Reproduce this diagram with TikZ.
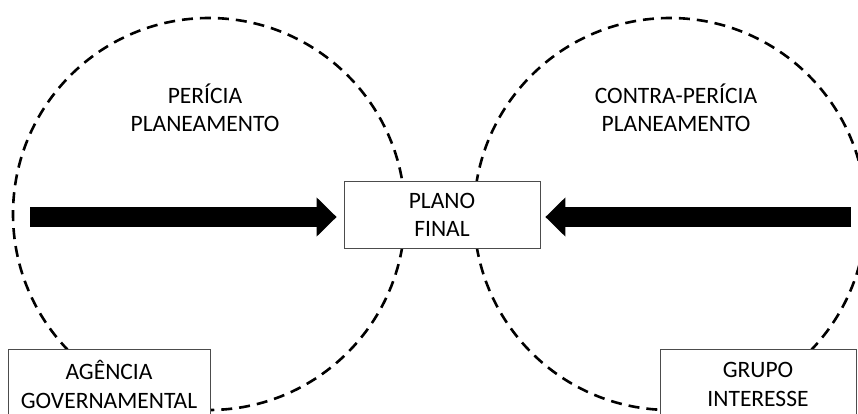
\documentclass[tikz,border=0pt]{standalone}
\usepackage{fontspec}
\setmainfont{Carlito}
\usetikzlibrary{arrows.meta,positioning}
\tikzstyle{block} = [rectangle, draw=gray!60!black, fill=white, line width=0.8pt,
    align=center, inner sep=0pt]
\tikzstyle{zone} = [draw, dash pattern=on 11pt off 7pt, line width=2.6pt]
\tikzstyle{line} = [draw, line width=20pt, -{Triangle[length=20pt,width=38pt]}]
\tikzstyle{heading} = [align=center, inner sep=0pt]

\begin{document}
\begin{tikzpicture}[x=1pt,y=1pt,every node/.style={font=\fontsize{23.5}{28.5}\selectfont}]
    \useasboundingbox (0,0) rectangle (858,413);
    % Dashed zones
    \draw[zone] (209,199) circle[radius=196];
    \draw[zone] (670,199) circle[radius=196];

    % Place nodes
    \node[block,minimum width=196pt,minimum height=67pt] (plano) at (442,198) {PLANO\\FINAL};
    \node[block,minimum width=202pt,minimum height=70pt,anchor=north] (agencia) at (109,64) {AGÊNCIA\\GOVERNAMENTAL};
    \node[block,minimum width=196pt,minimum height=70pt,anchor=north] (grupo) at (758,64) {GRUPO\\INTERESSE};
    \node[heading] (pericia) at (205,305) {PERÍCIA\\PLANEAMENTO};
    \node[heading] (contra) at (676,305) {CONTRA-PERÍCIA\\PLANEAMENTO};

    \coordinate (gov) at (30,196);
    \coordinate (grp) at (851,196);

    % Draw edges
    \path [line,shorten >=7pt] (gov) -- (gov -| plano.west);
    \path [line,shorten >=5pt] (grp) -- (grp -| plano.east);
\end{tikzpicture}
\end{document}
